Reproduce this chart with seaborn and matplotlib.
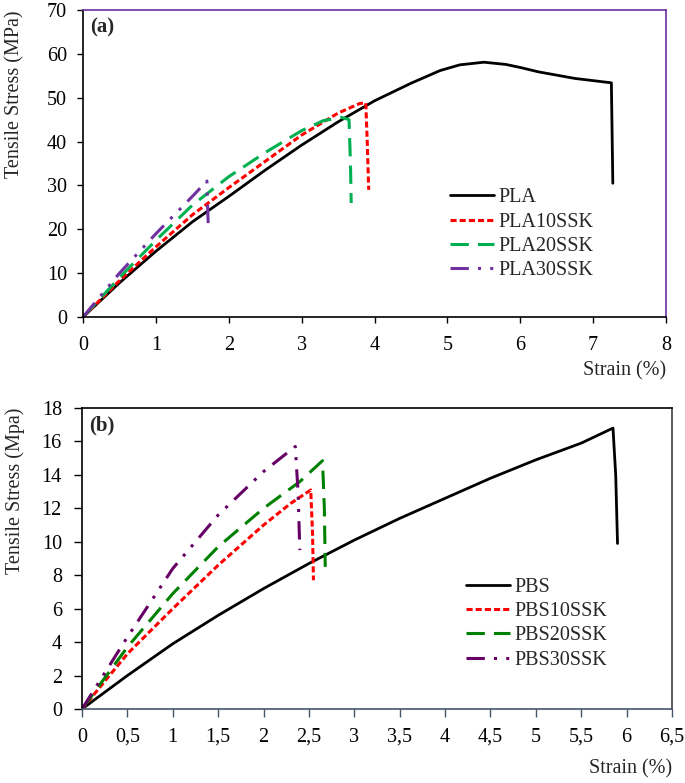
import matplotlib
matplotlib.use("Agg")
import matplotlib.pyplot as plt
import seaborn as sns

sns.set_style("ticks")
plt.rcParams['font.family'] = ['Liberation Serif', 'DejaVu Serif']

# ---------------- Data: panel (a) ----------------
pla_x = [0, 0.5, 1, 1.5, 2, 2.5, 3, 3.5, 4, 4.5, 4.9, 5.17, 5.5, 5.8, 6.0, 6.25, 6.75, 7.25, 7.27]
pla_y = [0, 7.8, 15, 21.7, 27.5, 33.5, 39.2, 44.5, 49.3, 53.3, 56.2, 57.5, 58.1, 57.6, 56.9, 55.9, 54.4, 53.4, 30.5]
pla10_x = [0, 0.5, 1, 1.5, 2, 2.5, 3, 3.5, 3.8, 3.88, 3.9, 3.92]
pla10_y = [0, 8.3, 16, 23.3, 29.5, 35.5, 41.5, 46.5, 48.7, 48.8, 40, 29]
pla20_x = [0, 0.5, 1, 1.5, 2, 2.5, 3, 3.3, 3.55, 3.65, 3.67, 3.68]
pla20_y = [0, 9, 17.5, 25.5, 32, 37.5, 42.5, 44.8, 45.5, 45, 35, 26]
pla30_x = [0, 0.5, 1, 1.5, 1.7, 1.71, 1.72]
pla30_y = [0, 10, 19, 27.5, 31, 25, 20]

# ---------------- Data: panel (b) ----------------
pbs_x = [0, 0.5, 1, 1.5, 2, 2.5, 3, 3.5, 4, 4.5, 5, 5.5, 5.85, 5.88, 5.9]
pbs_y = [0, 2.0, 3.9, 5.6, 7.2, 8.7, 10.1, 11.4, 12.6, 13.8, 14.9, 15.9, 16.8, 14, 9.9]
pbs10_x = [0, 0.5, 1, 1.5, 2, 2.3, 2.52, 2.54, 2.55]
pbs10_y = [0, 3.3, 6.0, 8.6, 11.0, 12.3, 13.1, 10.5, 7.7]
pbs20_x = [0, 0.5, 1, 1.5, 2, 2.4, 2.65, 2.67, 2.68]
pbs20_y = [0, 3.7, 6.9, 9.7, 12.0, 13.6, 14.85, 12, 8.5]
pbs30_x = [0, 0.5, 1, 1.5, 2, 2.35, 2.38, 2.4]
pbs30_y = [0, 4.3, 8.4, 11.6, 14.2, 15.7, 13, 9.5]

a_xticks = [0, 1, 2, 3, 4, 5, 6, 7, 8]
a_yticks = [0, 10, 20, 30, 40, 50, 60, 70]
b_xticks = [0, 0.5, 1, 1.5, 2, 2.5, 3, 3.5, 4, 4.5, 5, 5.5, 6, 6.5]
b_xticklabels = ["0", "0,5", "1", "1,5", "2", "2,5", "3", "3,5", "4", "4,5", "5", "5,5", "6", "6,5"]
b_yticks = [0, 2, 4, 6, 8, 10, 12, 14, 16, 18]

fig = plt.figure(figsize=(6.85, 7.83), dpi=100)
ax1 = fig.add_axes([0.1212, 0.5951, 0.8511, 0.3921])
ax2 = fig.add_axes([0.1197, 0.0945, 0.8613, 0.3844])

FS = 14.5

styles_a = [
    (pla_x, pla_y, "PLA", "black", "-", 2.0),
    (pla10_x, pla10_y, "PLA10SSK", "#ff0000", (0, (2.0, 1.0)), 2.2),
    (pla20_x, pla20_y, "PLA20SSK", "#00b050", (0, (6, 3)), 2.2),
    (pla30_x, pla30_y, "PLA30SSK", "#7030a0", (0, (6, 3, 1, 3, 1, 3)), 2.2),
]
for x, y, lab, c, ls, lw in styles_a:
    sns.lineplot(x=x, y=y, ax=ax1, color=c, linestyle=ls, linewidth=lw,
                 label=lab, sort=False, estimator=None)

styles_b = [
    (pbs_x, pbs_y, "PBS", "black", "-", 2.0),
    (pbs10_x, pbs10_y, "PBS10SSK", "#ff0000", (0, (2.0, 1.0)), 2.2),
    (pbs20_x, pbs20_y, "PBS20SSK", "#008000", (0, (6, 3)), 2.2),
    (pbs30_x, pbs30_y, "PBS30SSK", "#660066", (0, (6, 3, 1, 3, 1, 3)), 2.2),
]
for x, y, lab, c, ls, lw in styles_b:
    sns.lineplot(x=x, y=y, ax=ax2, color=c, linestyle=ls, linewidth=lw,
                 label=lab, sort=False, estimator=None)

# panel a axes
ax1.set_xlim(0, 8)
ax1.set_ylim(0, 70)
ax1.set_xticks(a_xticks)
ax1.set_yticks(a_yticks)
ax1.tick_params(direction='out', length=4.5, width=1, labelsize=FS, colors='black')
ax1.tick_params(axis='x', pad=9)
ax1.tick_params(axis='y', pad=7)
for s in ['left', 'bottom']:
    ax1.spines[s].set_color('black')
for s in ['top', 'right']:
    ax1.spines[s].set_visible(True)
    ax1.spines[s].set_color('#7030a0')
for s in ax1.spines.values():
    s.set_linewidth(1.2)
ax1.set_xlabel("Strain (%)", fontsize=FS, loc='right', labelpad=5)
ax1.set_ylabel("Tensile Stress (MPa)", fontsize=FS, loc='top', labelpad=16)
ax1.text(0.012, 0.975, "(a)", transform=ax1.transAxes, fontsize=FS + 0.5,
         fontweight='bold', va='top', ha='left')
ax1.legend(loc='upper left', bbox_to_anchor=(0.629, 0.419), frameon=False,
           fontsize=FS, handlelength=2.2, handletextpad=0.2, labelspacing=0.25,
           borderaxespad=0, borderpad=0)

# panel b axes
ax2.set_xlim(0, 6.5)
ax2.set_ylim(0, 18)
ax2.set_xticks(b_xticks)
ax2.set_xticklabels(b_xticklabels)
ax2.set_yticks(b_yticks)
ax2.tick_params(direction='out', length=5.5, width=1, labelsize=FS, colors='black')
ax2.tick_params(axis='x', color='#44546a', pad=8)
ax2.tick_params(axis='y', pad=9)
ax2.spines['left'].set_color('black')
ax2.spines['top'].set_visible(True)
ax2.spines['top'].set_color('black')
ax2.spines['right'].set_visible(True)
ax2.spines['right'].set_color('#404040')
ax2.spines['bottom'].set_color('#44546a')
for s in ax2.spines.values():
    s.set_linewidth(1.2)
ax2.set_xlabel("Strain (%)", fontsize=FS, loc='right', labelpad=9)
ax2.set_ylabel("Tensile Stress (Mpa)", fontsize=FS, loc='top', labelpad=12)
ax2.text(0.012, 0.975, "(b)", transform=ax2.transAxes, fontsize=FS + 0.5,
         fontweight='bold', va='top', ha='left')
ax2.legend(loc='upper left', bbox_to_anchor=(0.651, 0.435), frameon=False,
           fontsize=FS, handlelength=2.2, handletextpad=0.2, labelspacing=0.25,
           borderaxespad=0, borderpad=0)

fig.savefig("out.png", dpi=100)
